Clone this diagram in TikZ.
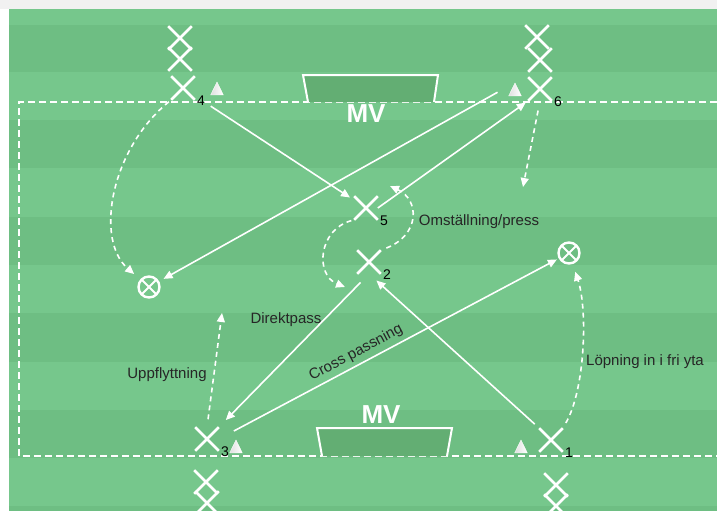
\documentclass[tikz,border=0pt]{standalone}
\usepackage{fontspec}
\setmainfont{Liberation Sans}
\usepackage{tikz}
\usetikzlibrary{arrows.meta,positioning,shapes.misc,shapes.geometric}

\definecolor{pitchA}{RGB}{118,199,140}
\definecolor{pitchB}{RGB}{110,190,131}
\definecolor{goalfill}{RGB}{99,174,115}
\definecolor{topbar}{RGB}{241,241,241}

\begin{document}
\begin{tikzpicture}[
  x=1pt, y=-1pt, >={Triangle[length=9pt,width=8pt]},
  player/.style={cross out, draw=white, line width=2.6pt, minimum size=21pt, inner sep=0pt},
  ball/.style={circle, draw=white, line width=2.4pt, minimum size=21pt, inner sep=0pt,
    path picture={\draw[white, line width=2pt] (path picture bounding box.north west) -- (path picture bounding box.south east)
      (path picture bounding box.north east) -- (path picture bounding box.south west);}},
  cone/.style={isosceles triangle, shape border rotate=90, isosceles triangle apex angle=52,
    left color=gray!25, right color=white, draw=white, line width=0.4pt, minimum height=13pt, inner sep=0pt},
  num/.style={inner sep=0pt, text=black, font=\fontsize{14}{14}\selectfont},
  note/.style={inner sep=1pt, text=black!85, font=\fontsize{15}{17}\selectfont},
  mv/.style={text=white, font=\fontsize{26}{28}\selectfont\bfseries},
  pass/.style={->, draw=white, line width=1.6pt},
  run/.style={->, draw=white, line width=1.6pt, dash pattern=on 5pt off 4pt},
  goal/.style={draw=white, line width=2pt, fill=goalfill},
]
\useasboundingbox (0,0) rectangle (717,511);
% pitch
\fill[white] (0,0) rectangle (717,511);
\fill[topbar] (0,0) rectangle (717,9);
\fill[pitchA] (9,9) rectangle (717,511);
\foreach \a/\b in {25/72,120/168,217/265,313/362,410/458,506/511}
  \fill[pitchB] (9,\a) rectangle (717,\b);
\draw[white, line width=1.5pt, dash pattern=on 7pt off 4pt] (717,102) -- (19,102) -- (19,456) -- (717,456);

% goals
\filldraw[goal] (308,102) -- (303,75) -- (438,75) -- (434,102);
\filldraw[goal] (322,456) -- (317,428) -- (452,428) -- (447,456);
\node[mv] (mvtop) at (366,114) {MV};
\node[mv] (mvbot) at (381,415) {MV};

% players
\node[player] (p4a) at (180,38) {};
\node[player] (p4b) at (180,59) {};
\node[player] (p4) at (183,88) {};
\node[player] (p6a) at (537,37) {};
\node[player] (p6b) at (540,60) {};
\node[player] (p6) at (540,89) {};
\node[player] (p5) at (366,208) {};
\node[player] (p2) at (369,262) {};
\node[player] (p3) at (207,439) {};
\node[player] (p3b) at (206,482) {};
\node[player] (p3a) at (207,503) {};
\node[player] (p1) at (551,440) {};
\node[player] (p1b) at (556,485) {};
\node[player] (p1a) at (556,506) {};

\node[num, below right=-4pt and 2pt of p4] (n4) {4};
\node[num, below right=-4pt and 2pt of p6] (n6) {6};
\node[num, below right=-4pt and 2pt of p5] (n5) {5};
\node[num, below right=-4pt and 2pt of p2] (n2) {2};
\node[num, below right=-4pt and 2pt of p3] (n3) {3};
\node[num, below right=-4pt and 2pt of p1] (n1) {1};

% cones and balls
\node[cone] (c4) at (217,91) {};
\node[cone] (c6) at (515,92) {};
\node[cone] (c3) at (236,449) {};
\node[cone] (c1) at (521,449) {};
\node[ball] (b1) at (149,287) {};
\node[ball] (b2) at (569,253) {};

\coordinate (drop6) at (523,187);
\coordinate (up3) at (222,313);
\coordinate (press5) at (390,186);
\coordinate (back2) at (345,287);

% passes and runs
\draw[pass, shorten <=19pt, shorten >=5pt] (p4) -- (p5);
\draw[pass, shorten <=20pt, shorten >=5pt] (c6.north) -- (b1);
\draw[pass, shorten >=3pt] (p5.east) -- (p6.south west);
\draw[run, shorten <=6pt] (p2.north east) .. controls (420,235) and (420,200) .. (press5);
\draw[run, shorten <=3pt] (p5.south west) .. controls (318,230) and (315,275) .. (back2);
\draw[run, shorten <=3pt, shorten >=8pt] (p4.south west) .. controls (110,150) and (95,240) .. (b1);
\draw[run, shorten <=10pt] (p6.south) -- (drop6);
\draw[pass, shorten <=12pt, shorten >=10pt] (p2.south) -- (p3.north east);
\draw[pass, shorten <=6pt, shorten >=10pt] (p1.north west) -- (p2.south);
\draw[pass, shorten <=17pt, shorten >=2pt] (p3.east) -- node[note, sloped, above=3pt, pos=0.42] (cross) {Cross passning} (b2);
\draw[run, shorten <=6pt, shorten >=8pt] (p1.north east) .. controls (585,390) and (588,310) .. (b2);
\draw[run, shorten <=8pt] (p3.north) -- (up3);

\node[note] (press) at (479,222) {Omställning/press};
\node[note] (direkt) at (286,320) {Direktpass};
\node[note] (uppfl) at (167,375) {Uppflyttning};
\node[note] (lopn) at (645,362) {Löpning in i fri yta};
\end{tikzpicture}
\end{document}
